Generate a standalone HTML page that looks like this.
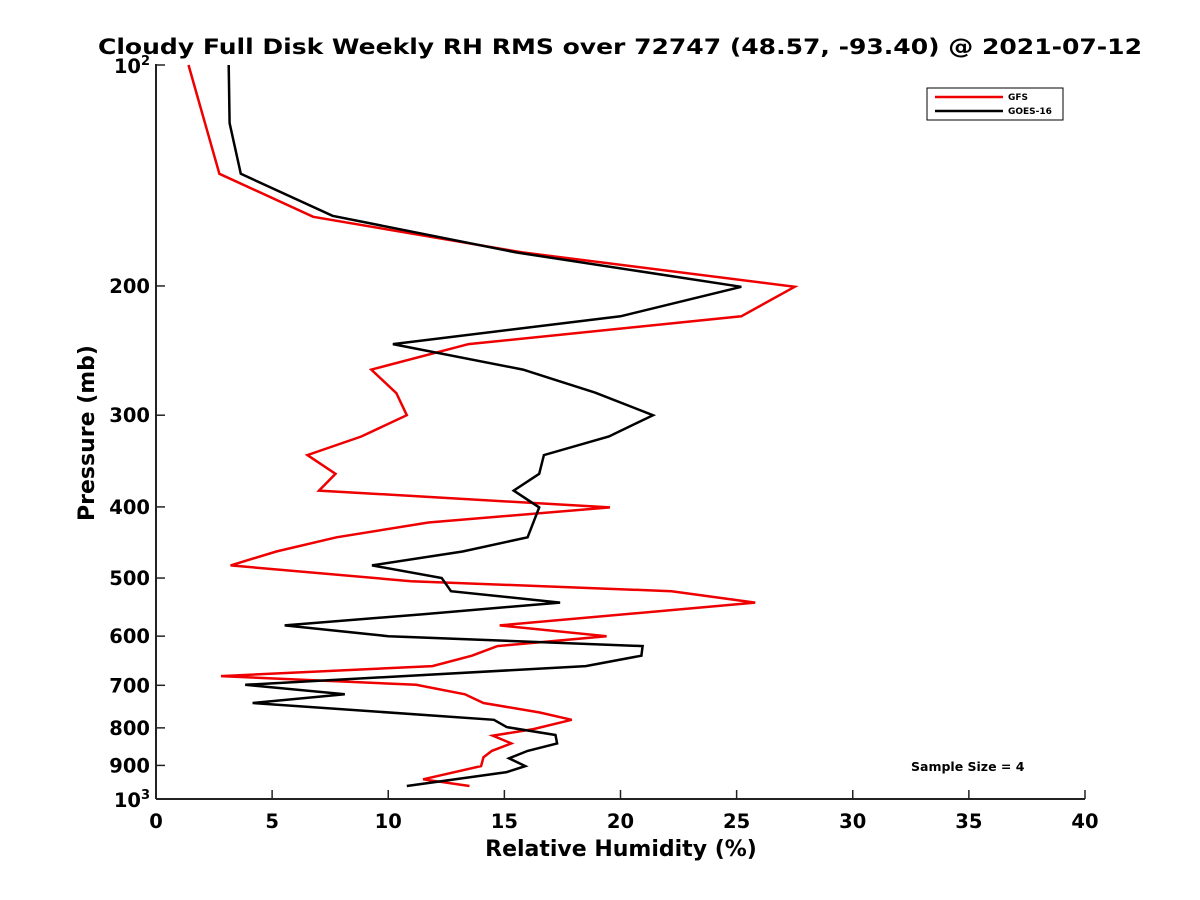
<!DOCTYPE html>
<html><head><meta charset="utf-8"><style>
body{margin:0;background:#fff;}
svg{display:block;font-family:"DejaVu Sans","Liberation Sans",sans-serif;font-weight:bold;}
</style></head><body>
<svg width="1200" height="900" viewBox="0 0 1200 900" xmlns="http://www.w3.org/2000/svg">
<rect width="1200" height="900" fill="#fff"/>
<text x="620" y="54" text-anchor="middle" font-size="21" textLength="1044" lengthAdjust="spacingAndGlyphs">Cloudy Full Disk Weekly RH RMS over 72747 (48.57, -93.40) @ 2021-07-12</text>
<g id="axes"></g>
<g id="series"></g>
<text x="621" y="856" text-anchor="middle" font-size="22">Relative Humidity (%)</text>
<text transform="translate(94,433) rotate(-90)" text-anchor="middle" font-size="22">Pressure (mb)</text>
<g>
<rect x="927" y="88" width="136" height="32" fill="#fff" stroke="#000" stroke-width="1"/>
<line x1="935" y1="97" x2="1003" y2="97" stroke="#e00" stroke-width="2.5"/>
<text x="1008" y="100" font-size="9">GFS</text>
<line x1="935" y1="111" x2="1003" y2="111" stroke="#000" stroke-width="2.5"/>
<text x="1008" y="114" font-size="9">GOES-16</text>
</g>
<text x="911" y="771" font-size="12.5">Sample Size = 4</text>
</svg>
<script>
const xTicks=[0,5,10,15,20,25,30,35,40];
const yTicks=[200,300,400,500,600,700,800,900];
const gfsRH=[1.40,2.73,6.77,15.77,27.5,25.2,13.46,9.27,10.35,10.8,8.84,6.52,7.73,7.02,19.55,11.73,7.77,5.18,3.21,10.98,22.2,25.8,14.8,19.4,14.7,13.6,11.9,2.8,11.2,13.3,14.1,16.5,17.9,16.25,14.5,15.3,14.46,14.1,14.0,11.5,13.5];
const gfsP=[100,140.7,161,180,200.5,220,240,260,280,300,320.7,340,360.5,380,400.6,420,440,460,480.5,505,521,540,580,600,619,638,659,680,699,720,740,762,780,803,820,840,860,877,902,940,960];
const goesRH=[3.13,3.17,3.65,7.6,15.5,25.2,20.0,10.2,15.8,18.9,21.4,19.5,16.7,16.5,15.4,16.5,16.0,13.2,9.3,12.3,12.7,17.4,11.5,5.54,10.0,20.95,20.9,18.5,3.84,8.13,4.16,14.55,15.1,17.2,17.27,16.0,15.2,15.9,15.1,10.8];
const goesP=[100,120,140.7,160.5,180,200.5,220,240,260,279.5,300,320.7,340,360.5,380,400.6,440,460,480.5,500,521,540,560,580,600,619,638,659,699,720,740,780,798,818,840,860,880,902,919,960];
const NS='http://www.w3.org/2000/svg';
const X0=156,X1=1085,Y0=65,Y1=799;
function xs(v){return X0+(v/40)*(X1-X0);}
function ys(p){return Y0+Math.log10(p/100)*(Y1-Y0);}
function mk(t,a,parent){const e=document.createElementNS(NS,t);for(const k in a)e.setAttribute(k,a[k]);parent.appendChild(e);return e;}
const ax=document.getElementById('axes');
let l=mk('line',{x1:X0,y1:Y0-1,x2:X0,y2:Y1,stroke:'#222','stroke-width':2},ax);


l=mk('line',{x1:X0,y1:Y1,x2:X1,y2:Y1,stroke:'#222','stroke-width':2},ax);


xTicks.forEach(v=>{
 const x=xs(v);
 mk('line',{x1:x,y1:Y1,x2:x,y2:Y1-9,stroke:'#222','stroke-width':1.5},ax);
 const t=mk('text',{x:x,y:Y1+29,'text-anchor':'middle','font-size':19.5},ax);
 t.textContent=v;
 
 
});
[100].concat(yTicks,[1000]).forEach(p=>{
 const y=ys(p);
 mk('line',{x1:X0,y1:y,x2:X0+9,y2:y,stroke:'#222','stroke-width':1.5},ax);
});
yTicks.forEach(p=>{
 const t=mk('text',{x:X0-6,y:ys(p)+7,'text-anchor':'end','font-size':19.5},ax);
 t.textContent=p;
 
 
});
[[100,'2'],[1000,'3']].forEach(([p,e])=>{
 const t=mk('text',{x:X0-6,y:ys(p)+8,'text-anchor':'end','font-size':19.5},ax);
 t.innerHTML='10<tspan dy="-8" font-size="13">'+e+'</tspan><tspan dy="8" font-size="1"> </tspan>';
 
 
});
const sg=document.getElementById('series');
function line(rh,p,color,name){
 const pts=rh.map((v,i)=>xs(v).toFixed(1)+','+ys(p[i]).toFixed(1)).join(' ');
 const e=mk('polyline',{points:pts,fill:'none',stroke:color,'stroke-width':2.5,'stroke-linejoin':'miter'},sg);
 
 
}
line(gfsRH,gfsP,'#e00','gfs-line');
line(goesRH,goesP,'#000','goes16-line');
</script>
</body></html>
